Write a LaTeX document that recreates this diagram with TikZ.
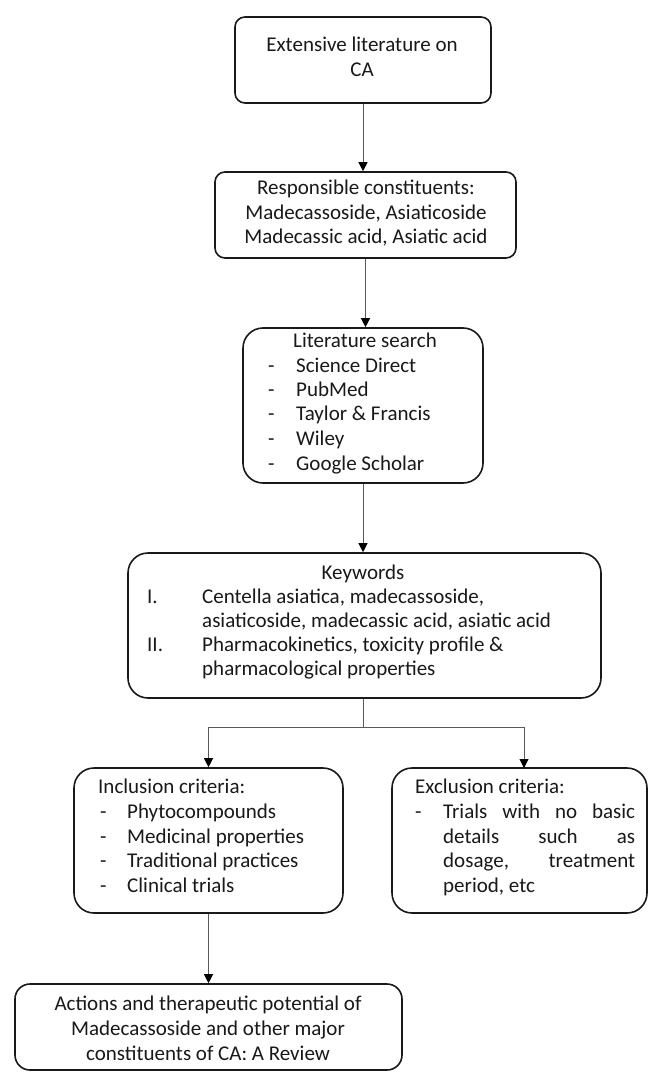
\documentclass[tikz,border=0pt]{standalone}
\usepackage{fontspec}
\setmainfont{Carlito}
\usetikzlibrary{arrows.meta,calc}
\begin{document}
\begin{tikzpicture}[x=1pt,y=-1pt]
\tikzset{
  box/.style={draw=black!90, line width=1.6pt, inner sep=0pt, fill=white},
  txt/.style={font=\fontsize{21}{24.5}\selectfont, text=black!90, inner sep=0pt},
  lt/.style={txt, anchor=mid west},
  ct/.style={txt, anchor=mid},
  conn/.style={draw=black!65, line width=0.9pt},
  arr/.style={conn, -{Triangle[width=9pt,length=9pt,color=black]}}
}
\useasboundingbox (0,0) rectangle (651,1075);
\fill[white] (0,0) rectangle (651,1075);

% boxes
\node[box, rounded corners=10pt, minimum width=256pt, minimum height=86pt] (b1) at (363,60) {};
\node[box, rounded corners=10pt, minimum width=301pt, minimum height=86pt] (b2) at (365.5,215) {};
\node[box, rounded corners=20pt, minimum width=240pt, minimum height=155pt] (b3) at (363,405.5) {};
\node[box, rounded corners=20pt, minimum width=473pt, minimum height=145pt] (b4) at (364.5,625.5) {};
\node[box, rounded corners=20pt, minimum width=269pt, minimum height=145pt] (inc) at (208.5,840.5) {};
\node[box, rounded corners=20pt, minimum width=255pt, minimum height=145pt] (exc) at (519.5,840.5) {};
\node[box, rounded corners=15pt, minimum width=387pt, minimum height=86pt] (fin) at (208.5,1027) {};

% box 1
\node[ct] (t1a) at (362,49) {Extensive literature on};
\node[ct] (t1b) at (362,74) {CA};
% box 2
\node[ct] (t2a) at (366,192) {Responsible constituents:};
\node[ct] (t2b) at (366,217) {Madecassoside, Asiaticoside};
\node[ct] (t2c) at (366,241) {Madecassic acid, Asiatic acid};
% box 3
\node[ct] (t3h) at (365,345) {Literature search};
\node[lt] (d3a) at (268,370) {-}; \node[lt] (t3a) at (296,370) {Science Direct};
\node[lt] (d3b) at (268,394) {-}; \node[lt] (t3b) at (296,394) {PubMed};
\node[lt] (d3c) at (268,418) {-}; \node[lt] (t3c) at (296,418) {Taylor \& Francis};
\node[lt] (d3d) at (268,443) {-}; \node[lt] (t3d) at (296,443) {Wiley};
\node[lt] (d3e) at (268,468) {-}; \node[lt] (t3e) at (296,468) {Google Scholar};
% box 4
\node[ct] (t4h) at (363,577) {Keywords};
\node[lt] (n4a) at (147,601) {I.};
\node[lt] (t4a) at (202,601) {Centella asiatica, madecassoside,};
\node[lt] (t4b) at (202,625) {asiaticoside, madecassic acid, asiatic acid};
\node[lt] (n4b) at (147,649) {II.};
\node[lt] (t4c) at (202,649) {Pharmacokinetics, toxicity profile \&};
\node[lt] (t4d) at (202,673) {pharmacological properties};
% inclusion
\node[lt] (t5h) at (98,791) {Inclusion criteria:};
\node[lt] (d5a) at (100,816) {-}; \node[lt] (t5a) at (127,816) {Phytocompounds};
\node[lt] (d5b) at (100,841) {-}; \node[lt] (t5b) at (127,841) {Medicinal properties};
\node[lt] (d5c) at (100,865) {-}; \node[lt] (t5c) at (127,865) {Traditional practices};
\node[lt] (d5d) at (100,890) {-}; \node[lt] (t5d) at (127,890) {Clinical trials};
% exclusion
\node[lt] (t6h) at (415,791) {Exclusion criteria:};
\node[lt] (d6a) at (415,816) {-};
\node[lt] (t6a) at (443,816) {\makebox[192pt][s]{Trials with no basic}};
\node[lt] (t6b) at (443,841) {\makebox[192pt][s]{details such as}};
\node[lt] (t6c) at (443,865) {\makebox[192pt][s]{dosage, treatment}};
\node[lt] (t6d) at (443,890) {period, etc};
% final
\node[ct] (t7a) at (208,1008) {Actions and therapeutic potential of};
\node[ct] (t7b) at (208,1033) {Madecassoside and other major};
\node[ct] (t7c) at (208,1058) {constituents of CA: A Review};

% connectors
\draw[arr] (b1.south) -- (b1.south |- b2.north);
\draw[arr] (b2.south) -- (b2.south |- b3.north);
\draw[arr] (b3.south) -- (b3.south |- b4.north);
\coordinate (j) at (363,727);
\coordinate (er) at (524,768);
\draw[conn] (b4.south -| j) -- (j);
\draw[arr] (j) -| (inc.north);
\draw[arr] (j) -| (er);
\draw[arr] (inc.south) -- (inc.south |- fin.north);
\end{tikzpicture}
\end{document}
